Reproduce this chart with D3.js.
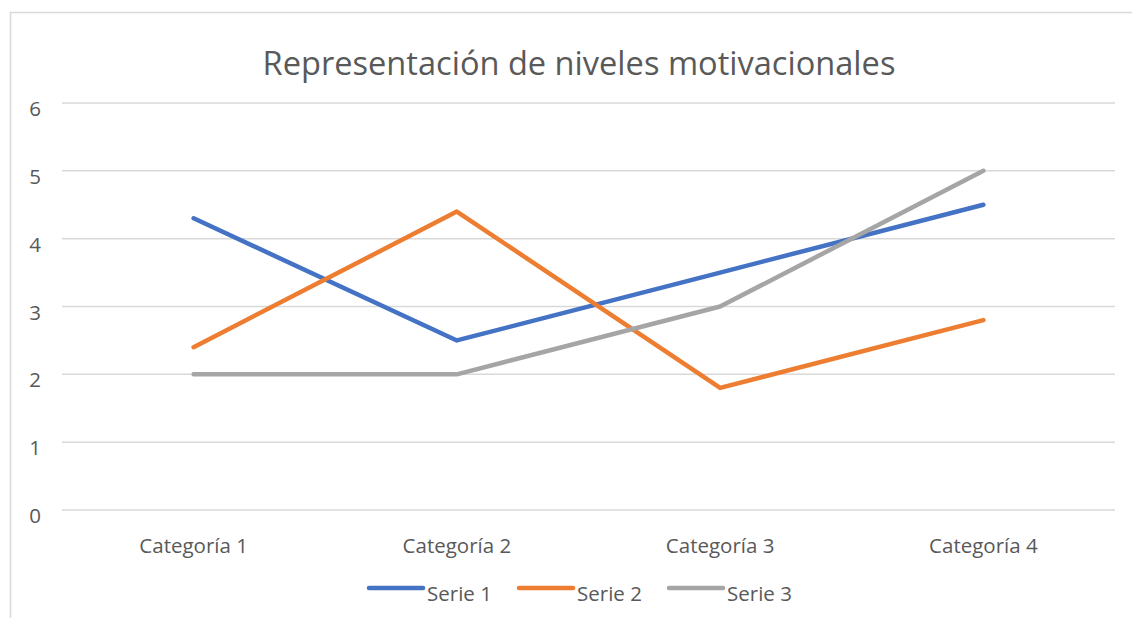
<!DOCTYPE html>
<html>
<head>
<meta charset="utf-8">
<script src="https://cdn.jsdelivr.net/npm/d3@7"></script>
<style>
  body { margin: 0; background: #fff; }
  text { font-family: "Open Sans", "Noto Sans", sans-serif; fill: #595959; }
</style>
</head>
<body>
<div id="chart"></div>
<script>
const categories = ['Categoría 1', 'Categoría 2', 'Categoría 3', 'Categoría 4'];
const serie1 = [4.3, 2.5, 3.5, 4.5];
const serie2 = [2.4, 4.4, 1.8, 2.8];
const serie3 = [2, 2, 3, 5];
const seriesNames = ['Serie 1', 'Serie 2', 'Serie 3'];
const colors = ['#4472C4', '#ED7D31', '#A5A5A5'];
const yTicks = [0, 1, 2, 3, 4, 5, 6];

const width = 1132, height = 618;
const svg = d3.select('#chart').append('svg')
  .attr('width', width).attr('height', height);

// chart border
svg.append('rect')
  .attr('x', 10.5).attr('y', 12.5)
  .attr('width', width + 20).attr('height', height + 20)
  .attr('fill', 'none').attr('stroke', '#d9d9d9').attr('stroke-width', 1.5);

svg.append('text')
  .attr('x', 579).attr('y', 75)
  .attr('text-anchor', 'middle')
  .style('font-size', '32.6px')
  .text('Representación de niveles motivacionales');

const x = d3.scaleBand().domain(categories).range([62, 1115]);
const y = d3.scaleLinear().domain([0, 6]).range([510, 103]);

// gridlines
svg.append('g').selectAll('line')
  .data(yTicks).enter().append('line')
  .attr('x1', 62).attr('x2', 1115)
  .attr('y1', d => y(d)).attr('y2', d => y(d))
  .attr('stroke', '#d9d9d9').attr('stroke-width', 1.5);

svg.append('g').selectAll('text')
  .data(yTicks).enter().append('text')
  .attr('x', 35).attr('y', d => y(d) + 13)
  .attr('text-anchor', 'middle')
  .style('font-size', '20.5px')
  .text(d => d);

svg.append('g').selectAll('text')
  .data(categories).enter().append('text')
  .attr('x', d => x(d) + x.bandwidth() / 2).attr('y', 553)
  .attr('text-anchor', 'middle')
  .style('font-size', '20.5px')
  .text(d => d);

const line = d3.line()
  .x((d, i) => x(categories[i]) + x.bandwidth() / 2)
  .y(d => y(d));

[serie1, serie2, serie3].forEach((s, i) => {
  svg.append('path')
    .datum(s)
    .attr('d', line)
    .attr('fill', 'none')
    .attr('stroke', colors[i])
    .attr('stroke-width', 4.5)
    .attr('stroke-linecap', 'round')
    .attr('stroke-linejoin', 'round');
});

// legend
const legendX = [369, 519, 669];
seriesNames.forEach((name, i) => {
  const g = svg.append('g').attr('transform', 'translate(' + legendX[i] + ',588)');
  g.append('line')
    .attr('x1', 0).attr('x2', 54)
    .attr('stroke', colors[i]).attr('stroke-width', 4.5)
    .attr('stroke-linecap', 'round');
  g.append('text')
    .attr('x', 58).attr('y', 13)
    .style('font-size', '20.5px')
    .text(name);
});
</script>
</body>
</html>
